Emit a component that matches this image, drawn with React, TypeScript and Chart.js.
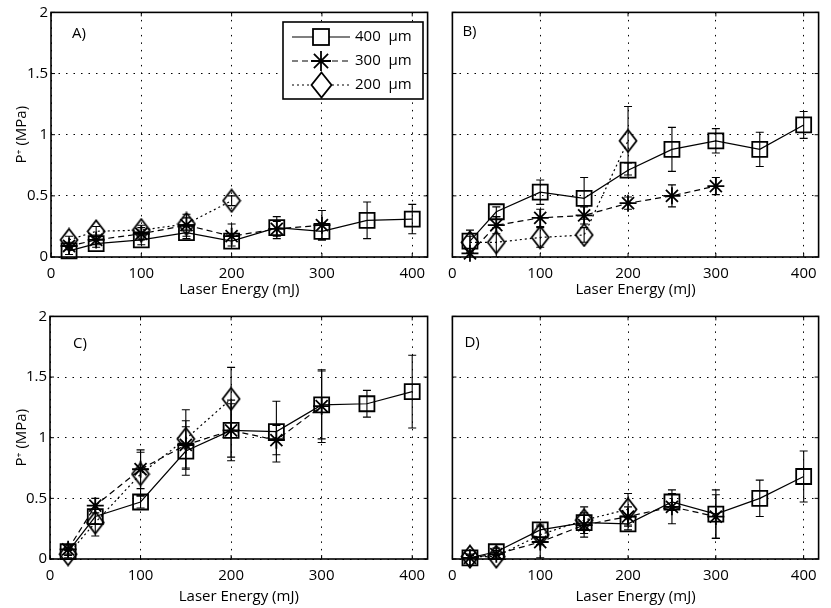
import React, { useEffect, useRef } from "react";
import { Chart, registerables } from "chart.js";

Chart.register(...registerables);

// ---------- data ----------
const energies = [20, 50, 100, 150, 200, 250, 300, 350, 400];
const xTicks = [0, 100, 200, 300, 400];
const yTicks = [0, 0.5, 1, 1.5, 2];
const seriesLabels = ["400  \u03BCm", "300  \u03BCm", "200  \u03BCm"];
const panelLabels = ["A)", "B)", "C)", "D)"];
const xTitle = "Laser Energy (mJ)";
const yTitle = "P\u207A (MPa)";

// Panel A
const a400 = [0.05, 0.11, 0.14, 0.20, 0.13, 0.24, 0.21, 0.30, 0.31];
const a400Err = [0.03, 0.03, 0.04, 0.05, 0.04, 0.09, 0.07, 0.15, 0.12];
const a300 = [0.09, 0.14, 0.19, 0.26, 0.17, 0.23, 0.26];
const a300Err = [0.03, 0.04, 0.05, 0.09, 0.10, 0.06, 0.12];
const a200 = [0.14, 0.21, 0.22, 0.27, 0.46];
const a200Err = [0.03, 0.04, 0.04, 0.05, 0.04];

// Panel B
const b400 = [0.13, 0.37, 0.53, 0.48, 0.71, 0.88, 0.95, 0.88, 1.08];
const b400Err = [0.09, 0.04, 0.10, 0.17, 0.06, 0.18, 0.10, 0.14, 0.11];
const b300 = [0.03, 0.26, 0.32, 0.34, 0.44, 0.50, 0.58];
const b300Err = [0.04, 0.07, 0.07, 0.07, 0.05, 0.09, 0.07];
const b200 = [0.12, 0.12, 0.16, 0.18, 0.95];
const b200Err = [0.05, 0.12, 0.08, 0.06, 0.28];

// Panel C
const c400 = [0.06, 0.35, 0.47, 0.89, 1.06, 1.05, 1.27, 1.28, 1.38];
const c400Err = [0.03, 0.06, 0.05, 0.20, 0.25, 0.25, 0.28, 0.11, 0.30];
const c300 = [0.08, 0.44, 0.74, 0.94, 1.06, 0.98, 1.26];
const c300Err = [0.04, 0.06, 0.16, 0.20, 0.22, 0.12, 0.30];
const c200 = [0.04, 0.30, 0.70, 0.99, 1.32];
const c200Err = [0.03, 0.11, 0.18, 0.24, 0.26];

// Panel D
const d400 = [0.01, 0.06, 0.24, 0.30, 0.29, 0.47, 0.37, 0.50, 0.68];
const d400Err = [0.02, 0.03, 0.06, 0.06, 0.05, 0.07, 0.20, 0.15, 0.21];
const d300 = [0.01, 0.04, 0.14, 0.28, 0.35, 0.43, 0.35];
const d300Err = [0.02, 0.03, 0.13, 0.10, 0.08, 0.14, 0.18];
const d200 = [0.02, 0.02, 0.20, 0.32, 0.41];
const d200Err = [0.02, 0.02, 0.08, 0.11, 0.13];

const panelSeries = [
  [[a400, a400Err], [a300, a300Err], [a200, a200Err]],
  [[b400, b400Err], [b300, b300Err], [b200, b200Err]],
  [[c400, c400Err], [c300, c300Err], [c200, c200Err]],
  [[d400, d400Err], [d300, d300Err], [d200, d200Err]],
];

// ---------- layout / style ----------
const FONT = "'Open Sans', 'DejaVu Sans', sans-serif";
const X_MAX = 417;

type PanelGeom = {
  left: number; top: number; w: number; h: number;
  pad: { top: number; right: number; left: number; bottom: number };
  yWidth: number; xHeight: number; showY: boolean;
  xTitlePad: number; labelDx: number; labelDy: number; legend: boolean;
};

const geoms: PanelGeom[] = [
  { left: 0, top: 0, w: 440, h: 304, pad: { top: 11, right: 12, left: 0, bottom: 0 }, yWidth: 51, xHeight: 47, showY: true, xTitlePad: 5, labelDx: 21, labelDy: 21, legend: true },
  { left: 440, top: 0, w: 391, h: 304, pad: { top: 11, right: 2, left: 8, bottom: 0 }, yWidth: 0, xHeight: 47, showY: false, xTitlePad: 5, labelDx: 10, labelDy: 19, legend: false },
  { left: 0, top: 304, w: 440, h: 304, pad: { top: 10, right: 10, left: 0, bottom: 0 }, yWidth: 50, xHeight: 49, showY: true, xTitlePad: 2, labelDx: 23, labelDy: 27, legend: false },
  { left: 440, top: 304, w: 391, h: 304, pad: { top: 10, right: 2, left: 8, bottom: 0 }, yWidth: 0, xHeight: 49, showY: false, xTitlePad: 2, labelDx: 12, labelDy: 26, legend: false },
];

function makeDiamond(w: number, h: number, lw: number) {
  const c = document.createElement("canvas");
  c.width = w + 3;
  c.height = h + 3;
  const g = c.getContext("2d")!;
  g.strokeStyle = "#000";
  g.lineWidth = lw;
  g.lineJoin = "miter";
  g.beginPath();
  g.moveTo(c.width / 2, 1.5);
  g.lineTo(c.width - 1.5, c.height / 2);
  g.lineTo(c.width / 2, c.height - 1.5);
  g.lineTo(1.5, c.height / 2);
  g.closePath();
  g.stroke();
  return c;
}

const errorBarPlugin = {
  id: "errorBars",
  afterDatasetsDraw(chart: any) {
    const { ctx, chartArea, scales } = chart;
    const xs = scales.x, ys = scales.y;
    ctx.save();
    ctx.beginPath();
    ctx.rect(chartArea.left, chartArea.top, chartArea.right - chartArea.left, chartArea.bottom - chartArea.top);
    ctx.clip();
    ctx.strokeStyle = "#000";
    ctx.lineWidth = 1.1;
    ctx.setLineDash([]);
    chart.data.datasets.forEach((ds: any) => {
      const errs: number[] = ds.errors || [];
      ds.data.forEach((p: any, j: number) => {
        const e = errs[j] || 0;
        const px = xs.getPixelForValue(p.x);
        const t = ys.getPixelForValue(p.y + e);
        const b = ys.getPixelForValue(p.y - e);
        ctx.beginPath();
        ctx.moveTo(px, t);
        ctx.lineTo(px, b);
        ctx.moveTo(px - 4, t);
        ctx.lineTo(px + 4, t);
        ctx.moveTo(px - 4, b);
        ctx.lineTo(px + 4, b);
        ctx.stroke();
      });
    });
    ctx.restore();
  },
};

const framePlugin = {
  id: "frame",
  afterDraw(chart: any) {
    const { ctx, chartArea, scales } = chart;
    const o = chart.options.plugins.frame || {};
    const { left, top, right, bottom } = chartArea;
    ctx.save();
    ctx.setLineDash([]);
    ctx.strokeStyle = "#000";
    ctx.lineWidth = 1.6;
    ctx.strokeRect(left, top, right - left, bottom - top);
    ctx.lineWidth = 1;
    ctx.beginPath();
    xTicks.forEach((v) => {
      const px = scales.x.getPixelForValue(v);
      ctx.moveTo(px, bottom);
      ctx.lineTo(px, bottom - 4);
      ctx.moveTo(px, top);
      ctx.lineTo(px, top + 4);
    });
    yTicks.forEach((v) => {
      const py = scales.y.getPixelForValue(v);
      ctx.moveTo(left, py);
      ctx.lineTo(left + 4, py);
      ctx.moveTo(right, py);
      ctx.lineTo(right - 4, py);
    });
    ctx.stroke();

    // panel label
    ctx.fillStyle = "#000";
    ctx.font = `15px ${FONT}`;
    ctx.textBaseline = "middle";
    ctx.textAlign = "left";
    ctx.fillText(o.label, left + o.dx, top + o.dy);

    // legend
    if (o.legend) {
      const lx = 283, ly = 22, lw = 140, lh = 77;
      ctx.fillStyle = "#fff";
      ctx.fillRect(lx, ly, lw, lh);
      ctx.strokeStyle = "#000";
      ctx.lineWidth = 1.6;
      ctx.strokeRect(lx, ly, lw, lh);
      const rows = [37, 61, 85];
      const dsets = chart.data.datasets;
      rows.forEach((ry, i) => {
        const ds = dsets[i];
        ctx.lineWidth = 1.2;
        ctx.setLineDash(ds.borderDash || []);
        ctx.beginPath();
        ctx.moveTo(292, ry);
        ctx.lineTo(350, ry);
        ctx.stroke();
        ctx.setLineDash([]);
        const cx = 321;
        if (i === 0) {
          ctx.lineWidth = 1.8;
          ctx.fillStyle = "#fff";
          ctx.fillRect(cx - 8, ry - 8, 16, 16);
          ctx.strokeRect(cx - 8, ry - 8, 16, 16);
        } else if (i === 1) {
          ctx.lineWidth = 1.8;
          ctx.beginPath();
          const r = 10;
          for (let k = 0; k < 4; k++) {
            const a = (k * Math.PI) / 4;
            ctx.moveTo(cx - r * Math.cos(a), ry - r * Math.sin(a));
            ctx.lineTo(cx + r * Math.cos(a), ry + r * Math.sin(a));
          }
          ctx.stroke();
        } else {
          const img = o.legendDiamond;
          ctx.fillStyle = "#fff";
          ctx.beginPath();
          ctx.moveTo(cx, ry - 12);
          ctx.lineTo(cx + 10, ry);
          ctx.lineTo(cx, ry + 12);
          ctx.lineTo(cx - 10, ry);
          ctx.closePath();
          ctx.fill();
          ctx.drawImage(img, Math.round(cx - img.width / 2), Math.round(ry - img.height / 2));
        }
        ctx.fillStyle = "#000";
        ctx.font = `15px ${FONT}`;
        ctx.textAlign = "left";
        ctx.textBaseline = "middle";
        ctx.fillText(seriesLabels[i], 355, ry);
      });
    }
    ctx.restore();
  },
};

export default function App() {
  const refs = [useRef<HTMLCanvasElement>(null), useRef<HTMLCanvasElement>(null), useRef<HTMLCanvasElement>(null), useRef<HTMLCanvasElement>(null)];

  useEffect(() => {
    const diamond = makeDiamond(17, 22, 1.8);
    const legendDiamond = makeDiamond(20, 25, 1.8);
    const charts: Chart[] = [];
    geoms.forEach((g, pi) => {
      const cv = refs[pi].current;
      if (!cv) return;
      const series = panelSeries[pi];
      const styles = [
        { borderDash: [], pointStyle: "rect", pointRadius: 10.6, pointBorderWidth: 1.8 },
        { borderDash: [6, 4], pointStyle: "star", pointRadius: 8.5, pointBorderWidth: 1.8 },
        { borderDash: [2, 3], pointStyle: diamond, pointRadius: 10, pointBorderWidth: 1.8 },
      ];
      const datasets = series.map(([vals, errs], si) => ({
        label: seriesLabels[si],
        data: (vals as number[]).map((v, k) => ({ x: energies[k], y: v })),
        errors: errs,
        borderColor: "#000",
        backgroundColor: "rgba(0,0,0,0)",
        pointBackgroundColor: "rgba(0,0,0,0)",
        pointBorderColor: "#000",
        borderWidth: 1.2,
        tension: 0,
        clip: false,
        ...styles[si],
      }));
      const chart = new Chart(cv, {
        type: "line",
        data: { datasets } as any,
        plugins: [errorBarPlugin, framePlugin],
        options: {
          animation: false,
          responsive: false,
          maintainAspectRatio: false,
          devicePixelRatio: 1,
          layout: { padding: g.pad },
          plugins: {
            legend: { display: false },
            tooltip: { enabled: false },
            frame: { label: panelLabels[pi], dx: g.labelDx, dy: g.labelDy, legend: g.legend, legendDiamond },
          } as any,
          scales: {
            x: {
              type: "linear",
              min: 0,
              max: X_MAX,
              afterBuildTicks: (s: any) => { s.ticks = xTicks.map((v) => ({ value: v })); },
              afterFit: (s: any) => { s.height = g.xHeight; },
              ticks: { color: "#000", font: { family: FONT, size: 15 }, padding: 8, maxRotation: 0, autoSkip: false, callback: (v: any) => String(v) },
              grid: { color: "#000", lineWidth: 1, drawTicks: false },
              border: { display: false, dash: [1.5, 6] },
              title: { display: true, text: xTitle, color: "#000", font: { family: FONT, size: 15 }, padding: { top: 0, bottom: g.xTitlePad } },
            },
            y: {
              type: "linear",
              min: 0,
              max: 2,
              afterBuildTicks: (s: any) => { s.ticks = yTicks.map((v) => ({ value: v })); },
              afterFit: (s: any) => { s.width = g.yWidth; },
              ticks: { display: g.showY, color: "#000", font: { family: FONT, size: 15 }, padding: 3, callback: (v: any) => String(v) },
              grid: { color: "#000", lineWidth: 1, drawTicks: false },
              border: { display: false, dash: [1.5, 6] },
              title: { display: g.showY, text: yTitle, color: "#000", font: { family: FONT, size: 15 }, padding: { top: 13, bottom: 0 } },
            },
          },
        } as any,
      });
      charts.push(chart);
    });
    return () => charts.forEach((c) => c.destroy());
  }, []);

  return (
    <div style={{ position: "absolute", left: 0, top: 0, width: 831, height: 608, background: "#fff" }}>
      {geoms.map((g, i) => (
        <canvas
          key={i}
          ref={refs[i]}
          width={g.w}
          height={g.h}
          style={{ position: "absolute", left: g.left, top: g.top, width: g.w, height: g.h }}
        />
      ))}
    </div>
  );
}
